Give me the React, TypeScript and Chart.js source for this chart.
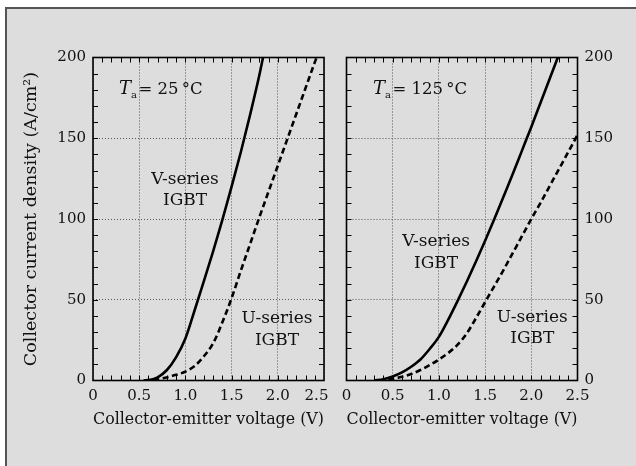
import React, { useEffect, useRef } from 'react';
import { Chart, registerables } from 'chart.js';

Chart.register(...registerables);

// ---- data ----
const xTicks = [0, 0.5, 1.0, 1.5, 2.0, 2.5];
const xTickLabels = ['0', '0.5', '1.0', '1.5', '2.0', '2.5'];
const yTicks = [0, 50, 100, 150, 200];
const yTickLabels = ['0', '50', '100', '150', '200'];

const xTitle = 'Collector-emitter voltage (V)';
const yTitle = 'Collector current density (A/cm²)';
const vSeriesName = ['V-series', 'IGBT'];
const uSeriesName = ['U-series', 'IGBT'];
const temperatures = ['25', '125'];

// Ta = 25 °C
const vce25V = [0.55, 0.6, 0.7, 0.8, 0.9, 1.0, 1.1, 1.2, 1.3, 1.4, 1.5, 1.6, 1.7, 1.8, 1.84];
const jc25V = [0, 0.2, 2, 6.5, 14.5, 26, 43.5, 61.5, 80, 99.5, 120, 141.5, 164.5, 189, 200];
const vce25U = [0.55, 0.7, 0.8, 0.9, 1.0, 1.1, 1.2, 1.3, 1.4, 1.5, 1.6, 1.7, 1.8, 1.9, 2.0, 2.1, 2.2, 2.3, 2.4, 2.42];
const jc25U = [0, 0.8, 2, 3.5, 5.5, 9, 15, 23, 36, 51, 68, 84.5, 101, 117, 133, 149, 165, 181, 197, 200];

// Ta = 125 °C
const vce125V = [0.3, 0.4, 0.5, 0.6, 0.7, 0.8, 0.9, 1.0, 1.1, 1.2, 1.3, 1.4, 1.5, 1.6, 1.7, 1.8, 1.9, 2.0, 2.1, 2.2, 2.29];
const jc125V = [0, 0.8, 2.5, 5, 8.5, 13, 19.5, 27, 37.5, 49, 61, 73.5, 86.5, 100, 114, 128, 142.5, 157, 172, 187, 200.5];
const vce125U = [0.35, 0.5, 0.6, 0.7, 0.8, 0.9, 1.0, 1.1, 1.2, 1.3, 1.4, 1.5, 1.6, 1.7, 1.8, 1.9, 2.0, 2.1, 2.2, 2.3, 2.4, 2.5];
const jc125U = [0, 1, 2.3, 4, 6.5, 9.5, 13, 17, 22, 29, 38.5, 48.5, 58.5, 68.5, 79, 89.5, 100, 110, 120.5, 131, 141.5, 152];

// ---- style ----
const FONT = "'DejaVu Serif', serif";
const X_MIN = 0, X_MAX = 2.5, Y_MIN = 0, Y_MAX = 200;
const X_MINOR = 0.1, Y_MINOR = 10;

const toPts = (xs: number[], ys: number[]) => xs.map((x, i) => ({ x, y: ys[i] }));

const framePlugin = {
  id: 'frameTicks',
  afterDatasetsDraw(chart: any) {
    const { ctx, chartArea: a } = chart;
    const xs = chart.scales.x, ys = chart.scales.y;
    ctx.save();
    ctx.strokeStyle = '#000';
    ctx.lineWidth = 1;
    ctx.beginPath();
    const tl = 5;
    const ny = Math.round((Y_MAX - Y_MIN) / Y_MINOR);
    for (let i = 1; i < ny; i++) {
      const py = Math.round(ys.getPixelForValue(Y_MIN + i * Y_MINOR)) + 0.5;
      ctx.moveTo(a.left, py); ctx.lineTo(a.left + tl, py);
      ctx.moveTo(a.right, py); ctx.lineTo(a.right - tl, py);
    }
    const nx = Math.round((X_MAX - X_MIN) / X_MINOR);
    for (let i = 1; i < nx; i++) {
      const px = Math.round(xs.getPixelForValue(X_MIN + i * X_MINOR)) + 0.5;
      ctx.moveTo(px, a.top); ctx.lineTo(px, a.top + tl);
      ctx.moveTo(px, a.bottom); ctx.lineTo(px, a.bottom - tl);
    }
    ctx.stroke();
    ctx.lineWidth = 1.6;
    ctx.strokeRect(a.left, a.top, a.right - a.left, a.bottom - a.top);
    ctx.restore();
  },
};

const textPlugin = {
  id: 'panelText',
  afterDraw(chart: any) {
    const o = chart.options.plugins.panelText;
    if (!o) return;
    const { ctx } = chart;
    const xs = chart.scales.x, ys = chart.scales.y;
    ctx.save();
    ctx.fillStyle = '#111';
    ctx.textBaseline = 'alphabetic';
    ctx.textAlign = 'left';
    let px = xs.getPixelForValue(o.temp.x);
    const py = ys.getPixelForValue(o.temp.y);
    ctx.font = `italic 18px ${FONT}`;
    ctx.fillText('T', px, py);
    px += ctx.measureText('T').width;
    ctx.font = `10px ${FONT}`;
    ctx.fillText('a', px, py + 4);
    px += ctx.measureText('a').width + 1.5;
    ctx.font = `16.5px ${FONT}`;
    ctx.fillText(`= ${o.temp.value}\u2009°C`, px, py);

    ctx.textAlign = 'center';
    ctx.font = `17px ${FONT}`;
    for (const l of o.labels) {
      const lx = xs.getPixelForValue(l.x);
      const ly = ys.getPixelForValue(l.y);
      l.lines.forEach((t: string, i: number) => ctx.fillText(t, lx, ly + i * 21.5));
    }
    ctx.restore();
  },
};

function makeConfig(side: 'left' | 'right', vPts: any[], uPts: any[], opts: any) {
  const isLeft = side === 'left';
  return {
    type: 'line',
    data: {
      datasets: [
        {
          label: vSeriesName.join(' '),
          data: vPts,
          borderColor: '#000',
          borderWidth: 2.6,
          pointRadius: 0,
          fill: false,
          cubicInterpolationMode: 'monotone',
        },
        {
          label: uSeriesName.join(' '),
          data: uPts,
          borderColor: '#000',
          borderWidth: 2.6,
          borderDash: [6, 3.5],
          pointRadius: 0,
          fill: false,
          cubicInterpolationMode: 'monotone',
        },
      ],
    },
    options: {
      animation: false,
      responsive: false,
      devicePixelRatio: 1,
      events: [],
      layout: {
        padding: isLeft
          ? { left: 0, top: 57.5, right: 312, bottom: 35.5 }
          : { left: 346.5, top: 57.5, right: 0, bottom: 35.5 },
      },
      plugins: {
        legend: { display: false },
        tooltip: { enabled: false },
        panelText: opts,
      },
      scales: {
        x: {
          type: 'linear',
          min: X_MIN,
          max: X_MAX,
          afterBuildTicks: (s: any) => { s.ticks = xTicks.map((v) => ({ value: v })); },
          afterFit: (s: any) => { s.height = 50; },
          ticks: {
            autoSkip: false,
            maxRotation: 0,
            padding: 7,
            color: '#111',
            font: { family: FONT, size: 15 },
            callback: (_v: any, i: number) =>
              isLeft && i === xTickLabels.length - 1 ? xTickLabels[i] + '\u2003' : xTickLabels[i],
          },
          grid: { color: '#555', lineWidth: 1, drawTicks: false },
          border: { display: false, dash: [1, 2] },
          title: {
            display: true,
            text: xTitle,
            color: '#111',
            font: { family: FONT, size: 17 },
            padding: { top: 0, bottom: 0.5 },
          },
        },
        y: {
          type: 'linear',
          position: side,
          min: Y_MIN,
          max: Y_MAX,
          afterBuildTicks: (s: any) => { s.ticks = yTicks.map((v) => ({ value: v })); },
          afterFit: (s: any) => { s.width = isLeft ? 93 : 58.5; },
          ticks: {
            padding: 7,
            color: '#111',
            font: { family: FONT, size: 15 },
            callback: (_v: any, i: number) => yTickLabels[i],
          },
          grid: { color: '#555', lineWidth: 1, drawTicks: false },
          border: { display: false, dash: [1, 2] },
          title: {
            display: isLeft,
            text: yTitle,
            color: '#111',
            font: { family: FONT, size: 17.5 },
            padding: { top: 21, bottom: 0 },
          },
        },
      },
    },
    plugins: [framePlugin, textPlugin],
  };
}

export default function App() {
  const leftRef = useRef<HTMLCanvasElement>(null);
  const rightRef = useRef<HTMLCanvasElement>(null);

  useEffect(() => {
    document.body.style.margin = '0';
    document.body.style.overflow = 'hidden';
    const left = new Chart(
      leftRef.current as HTMLCanvasElement,
      makeConfig('left', toPts(vce25V, jc25V), toPts(vce25U, jc25U), {
        temp: { x: 0.281, y: 177.4, value: temperatures[0] },
        labels: [
          { x: 0.996, y: 121.7, lines: vSeriesName },
          { x: 1.991, y: 35.6, lines: uSeriesName },
        ],
      }) as any
    );
    const right = new Chart(
      rightRef.current as HTMLCanvasElement,
      makeConfig('right', toPts(vce125V, jc125V), toPts(vce125U, jc125U), {
        temp: { x: 0.287, y: 177.4, value: temperatures[1] },
        labels: [
          { x: 0.97, y: 83.2, lines: vSeriesName },
          { x: 2.01, y: 36.5, lines: uSeriesName },
        ],
      }) as any
    );
    return () => {
      left.destroy();
      right.destroy();
    };
  }, []);

  const canvasStyle: React.CSSProperties = {
    position: 'absolute',
    left: 0,
    top: 0,
    width: 636,
    height: 466,
  };

  return (
    <div style={{ position: 'relative', width: 636, height: 466, overflow: 'hidden', background: '#fff' }}>
      <div
        style={{
          position: 'absolute',
          left: 5,
          top: 7,
          width: 640,
          height: 470,
          boxSizing: 'border-box',
          background: '#dcdddc',
          borderLeft: '2px solid #555',
          borderTop: '2px solid #555',
        }}
      />
      <canvas ref={leftRef} width={636} height={466} style={canvasStyle} />
      <canvas ref={rightRef} width={636} height={466} style={canvasStyle} />
    </div>
  );
}
